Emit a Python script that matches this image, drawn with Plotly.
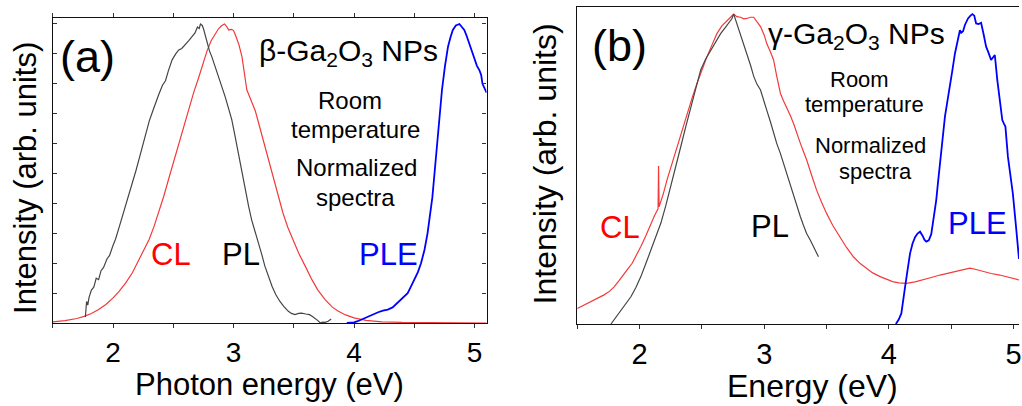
import plotly.graph_objects as go

# ---------------- Panel (a): beta-Ga2O3 NPs ----------------
a_cl_e = [1.50, 1.60, 1.70, 1.76, 1.82, 1.88, 1.94, 2.00, 2.05, 2.105, 2.16, 2.215, 2.26, 2.30, 2.34,
          2.38, 2.42, 2.46, 2.50, 2.545, 2.59, 2.63, 2.67, 2.71, 2.745, 2.78, 2.815, 2.85, 2.875, 2.90,
          2.925, 2.945, 2.96, 2.985, 3.00, 3.02, 3.045, 3.07, 3.09, 3.11, 3.145, 3.18, 3.205, 3.23,
          3.26, 3.29, 3.33, 3.37, 3.41, 3.45, 3.50, 3.54, 3.60, 3.65, 3.70, 3.76, 3.82, 3.87, 3.93,
          4.00, 4.10, 4.23, 4.40, 4.64, 4.90, 5.10]
a_cl_i = [0.004, 0.008, 0.015, 0.022, 0.032, 0.045, 0.062, 0.084, 0.106, 0.134, 0.168, 0.21, 0.245,
          0.28, 0.323, 0.37, 0.423, 0.48, 0.537, 0.60, 0.665, 0.72, 0.772, 0.82, 0.866, 0.91, 0.945,
          0.97, 0.984, 0.994, 1.0, 0.99, 0.98, 0.982, 0.978, 0.958, 0.93, 0.89, 0.84, 0.78, 0.745,
          0.71, 0.673, 0.635, 0.592, 0.545, 0.482, 0.42, 0.368, 0.32, 0.27, 0.234, 0.186, 0.145,
          0.11, 0.078, 0.053, 0.039, 0.027, 0.017, 0.009, 0.004, 0.002, 0.001, 0.0, 0.0]

a_pl_e = [1.77, 1.775, 1.78, 1.79, 1.80, 1.82, 1.84, 1.86, 1.88, 1.90, 1.92, 1.95, 1.97, 2.00, 2.02,
          2.05, 2.08, 2.105, 2.13, 2.16, 2.19, 2.22, 2.25, 2.27, 2.30, 2.33, 2.35, 2.38, 2.41, 2.435,
          2.46, 2.49, 2.52, 2.545, 2.57, 2.60, 2.63, 2.655, 2.68, 2.70, 2.715, 2.725, 2.74, 2.75,
          2.765, 2.78, 2.80, 2.82, 2.85, 2.875, 2.90, 2.93, 2.96, 2.985, 3.01, 3.04, 3.07, 3.10,
          3.125, 3.15, 3.18, 3.21, 3.235, 3.26, 3.29, 3.32, 3.35, 3.385, 3.42, 3.455, 3.48, 3.51,
          3.54, 3.565, 3.60, 3.63, 3.655, 3.675, 3.70, 3.72, 3.74, 3.76, 3.785, 3.81]
a_pl_i = [0.02, 0.05, 0.072, 0.06, 0.085, 0.11, 0.12, 0.15, 0.145, 0.175, 0.185, 0.215, 0.225, 0.26,
          0.28, 0.32, 0.36, 0.39, 0.43, 0.465, 0.51, 0.555, 0.60, 0.635, 0.675, 0.71, 0.735, 0.765,
          0.795, 0.81, 0.845, 0.88, 0.9, 0.913, 0.918, 0.93, 0.945, 0.958, 0.97, 0.99, 0.985, 1.0,
          0.995, 0.985, 0.96, 0.935, 0.91, 0.89, 0.855, 0.824, 0.795, 0.757, 0.715, 0.68, 0.63,
          0.568, 0.50, 0.434, 0.39, 0.345, 0.305, 0.267, 0.228, 0.19, 0.155, 0.122, 0.095, 0.072,
          0.054, 0.039, 0.032, 0.028, 0.032, 0.033, 0.03, 0.028, 0.022, 0.017, 0.008, 0.0, 0.003,
          0.002, 0.006, 0.013]

a_ple_e = [3.94, 4.00, 4.03, 4.07, 4.115, 4.16, 4.20, 4.24, 4.28, 4.32, 4.36, 4.40, 4.445, 4.47,
           4.50, 4.53, 4.556, 4.585, 4.61, 4.63, 4.65, 4.67, 4.69, 4.71, 4.73, 4.755, 4.78, 4.80,
           4.82, 4.845, 4.875, 4.895, 4.915, 4.935, 4.955, 4.975, 5.00, 5.02, 5.04, 5.055, 5.066,
           5.08, 5.10]
a_ple_i = [0.0, 0.002, 0.006, 0.013, 0.022, 0.03, 0.036, 0.041, 0.045, 0.052, 0.067, 0.08, 0.10,
           0.12, 0.145, 0.17, 0.20, 0.245, 0.30, 0.355, 0.42, 0.51, 0.60, 0.69, 0.78, 0.86, 0.924,
           0.955, 0.98, 0.995, 1.0, 0.99, 0.98, 0.96, 0.935, 0.91, 0.88, 0.86, 0.846, 0.83, 0.80,
           0.785, 0.77]

# ---------------- Panel (b): gamma-Ga2O3 NPs ----------------
b_cl_e = [1.50, 1.55, 1.61, 1.66, 1.715, 1.76, 1.795, 1.835, 1.875, 1.91, 1.94, 1.975, 2.01, 2.05,
          2.09, 2.12, 2.148, 2.152, 2.156, 2.19, 2.22, 2.26, 2.30, 2.34, 2.38, 2.42, 2.46, 2.50,
          2.54, 2.58, 2.62, 2.66, 2.70, 2.73, 2.755, 2.78, 2.81, 2.835, 2.86, 2.89, 2.915, 2.945,
          2.97, 3.00, 3.02, 3.05, 3.075, 3.10, 3.13, 3.155, 3.18, 3.21, 3.235, 3.26, 3.29, 3.315,
          3.34, 3.38, 3.42, 3.46, 3.50, 3.55, 3.61, 3.66, 3.715, 3.77, 3.82, 3.87, 3.93, 3.98, 4.03,
          4.08, 4.14, 4.21, 4.275, 4.34, 4.41, 4.48, 4.54, 4.60, 4.65, 4.70, 4.755, 4.82, 4.89,
          4.96, 5.044]
b_cl_i = [0.05, 0.06, 0.072, 0.082, 0.094, 0.106, 0.12, 0.14, 0.163, 0.18, 0.196, 0.222, 0.25,
          0.285, 0.325, 0.35, 0.372, 0.51, 0.378, 0.42, 0.465, 0.518, 0.572, 0.626, 0.68, 0.728,
          0.776, 0.82, 0.862, 0.90, 0.937, 0.962, 0.98, 0.99, 1.0, 0.992, 0.99, 0.985, 0.986,
          0.99, 0.99, 0.975, 0.96, 0.932, 0.905, 0.878, 0.852, 0.80, 0.744, 0.72, 0.70, 0.672,
          0.647, 0.615, 0.583, 0.556, 0.53, 0.48, 0.432, 0.393, 0.357, 0.318, 0.28, 0.247, 0.217,
          0.195, 0.18, 0.165, 0.153, 0.145, 0.137, 0.133, 0.131, 0.136, 0.142, 0.15, 0.158, 0.164,
          0.169, 0.175, 0.18, 0.176, 0.169, 0.163, 0.158, 0.15, 0.142]

b_pl_e = [1.77, 1.81, 1.85, 1.89, 1.93, 1.97, 2.01, 2.05, 2.09, 2.13, 2.17, 2.21, 2.25, 2.29, 2.33,
          2.37, 2.41, 2.45, 2.49, 2.53, 2.57, 2.61, 2.65, 2.69, 2.715, 2.74, 2.755, 2.78, 2.81,
          2.835, 2.86, 2.89, 2.915, 2.94, 2.97, 3.00, 3.02, 3.05, 3.075, 3.10, 3.13, 3.155, 3.18,
          3.21, 3.235, 3.26, 3.29, 3.315, 3.34, 3.37, 3.395, 3.415, 3.435]
b_pl_i = [0.0, 0.022, 0.045, 0.066, 0.088, 0.118, 0.153, 0.195, 0.239, 0.282, 0.325, 0.382, 0.443,
          0.507, 0.572, 0.636, 0.70, 0.762, 0.82, 0.855, 0.884, 0.912, 0.937, 0.958, 0.97, 0.985,
          1.0, 0.97, 0.937, 0.905, 0.873, 0.835, 0.80, 0.775, 0.755, 0.72, 0.69, 0.652, 0.615,
          0.583, 0.55, 0.518, 0.486, 0.448, 0.41, 0.378, 0.346, 0.318, 0.292, 0.27, 0.25, 0.232,
          0.217]

b_ple_e = [4.056, 4.08, 4.10, 4.115, 4.13, 4.15, 4.17, 4.19, 4.21, 4.23, 4.25, 4.27, 4.285, 4.30,
           4.32, 4.34, 4.36, 4.38, 4.395, 4.41, 4.43, 4.45, 4.47, 4.49, 4.51, 4.53, 4.55, 4.57,
           4.58, 4.595, 4.61, 4.635, 4.655, 4.67, 4.685, 4.70, 4.72, 4.74, 4.76, 4.78, 4.80, 4.82,
           4.835, 4.85, 4.87, 4.89, 4.91, 4.925, 4.935, 4.955, 4.975, 4.995, 5.02, 5.044]
b_ple_i = [0.0, 0.015, 0.034, 0.07, 0.12, 0.175, 0.228, 0.26, 0.28, 0.292, 0.298, 0.285, 0.272,
           0.266, 0.27, 0.29, 0.34, 0.40, 0.46, 0.52, 0.60, 0.67, 0.72, 0.766, 0.82, 0.873, 0.91,
           0.948, 0.94, 0.945, 0.965, 0.986, 0.995, 1.0, 0.995, 0.97, 0.968, 0.972, 0.935, 0.895,
           0.875, 0.852, 0.86, 0.868, 0.787, 0.72, 0.658, 0.645, 0.637, 0.54, 0.48, 0.42, 0.314,
           0.21]

x_tickvals = [2, 3, 4, 5]
x_ticktext = ["2", "3", "4", "5"]

RED_LINE = "#f23a3a"
PL_LINE = "#454545"
BLUE = "#0000ff"

fig = go.Figure()
fig.add_trace(go.Scatter(x=a_cl_e, y=a_cl_i, mode="lines", line=dict(color=RED_LINE, width=1.2),
                         xaxis="x", yaxis="y", showlegend=False))
fig.add_trace(go.Scatter(x=a_pl_e, y=a_pl_i, mode="lines", line=dict(color=PL_LINE, width=1.2),
                         xaxis="x", yaxis="y", showlegend=False))
fig.add_trace(go.Scatter(x=a_ple_e, y=a_ple_i, mode="lines", line=dict(color=BLUE, width=1.8),
                         xaxis="x", yaxis="y", showlegend=False))
fig.add_trace(go.Scatter(x=b_cl_e, y=b_cl_i, mode="lines", line=dict(color=RED_LINE, width=1.2),
                         xaxis="x2", yaxis="y2", showlegend=False))
fig.add_trace(go.Scatter(x=b_pl_e, y=b_pl_i, mode="lines", line=dict(color=PL_LINE, width=1.2),
                         xaxis="x2", yaxis="y2", showlegend=False))
fig.add_trace(go.Scatter(x=b_ple_e, y=b_ple_i, mode="lines", line=dict(color=BLUE, width=1.8),
                         xaxis="x2", yaxis="y2", showlegend=False))

W, H = 1022, 406
FONT = "Liberation Sans, Arial, sans-serif"


def px_x(p):
    return p / W


def px_y(p):
    return 1 - p / H


common_x = dict(showgrid=False, zeroline=False, showline=True, linecolor="#111", linewidth=1.3,
                ticks="outside", ticklen=4, tickwidth=1.2, tickcolor="#333",
                tickvals=x_tickvals, ticktext=x_ticktext, ticklabeloverflow="allow",
                minor=dict(dtick=0.5, tick0=1.5, ticks="outside", ticklen=4, tickwidth=1.2, tickcolor="#333"))

fig.update_layout(
    width=W, height=H, margin=dict(l=0, r=0, t=0, b=0),
    paper_bgcolor="white", plot_bgcolor="white",
    xaxis=dict(domain=[px_x(53), px_x(488)], range=[1.5, 5.1], anchor="y", mirror="ticks",
               tickfont=dict(family=FONT, size=28, color="black"), **common_x),
    yaxis=dict(domain=[px_y(323), px_y(18)], range=[0, 1.02], anchor="x", showgrid=False,
               zeroline=False, showline=True, linecolor="#111", linewidth=1.3, mirror="ticks",
               ticks="inside", ticklen=4, tickwidth=1.1, tickcolor="#333", dtick=0.1, tick0=0,
               showticklabels=False),
    xaxis2=dict(domain=[px_x(579), 1.0], range=[1.5, 1.5 + (W - 579) / 125.0], anchor="y2",
                mirror=True, tickfont=dict(family=FONT, size=29, color="black"), **common_x),
    yaxis2=dict(domain=[px_y(324), px_y(7)], range=[0, 1.023], anchor="x2", showgrid=False,
                zeroline=False, showline=True, linecolor="#111", linewidth=1.3, ticks="",
                showticklabels=False),
)

ann = []


def add_text(x, y, text, size, color="black", angle=0):
    ann.append(dict(x=px_x(x), y=px_y(y), xref="paper", yref="paper", text=text, showarrow=False,
                    xanchor="center", yanchor="middle", textangle=angle,
                    font=dict(family=FONT, size=size, color=color)))


# panel (a)
add_text(88, 56, "(a)", 45)
add_text(350, 52, "β-Ga<sub>2</sub>O<sub>3</sub> NPs", 30)
add_text(351, 101, "Room", 24)
add_text(357, 130, "temperature", 24)
add_text(358, 168, "Normalized", 24)
add_text(357, 197, "spectra", 24)
add_text(172, 255, "CL", 31, "#ff0000")
add_text(242, 255, "PL", 31)
add_text(390, 255, "PLE", 31, BLUE)
add_text(270, 384, "Photon energy (eV)", 31)
add_text(25, 178, "Intensity (arb. units)", 31, angle=-90)

# panel (b)
add_text(621, 46, "(b)", 45)
add_text(859, 35, "γ-Ga<sub>2</sub>O<sub>3</sub> NPs", 30)
add_text(862, 79, "Room", 22)
add_text(867, 105, "temperature", 22)
add_text(873, 145, "Normalized", 22)
add_text(878, 171, "spectra", 22)
add_text(622, 227, "CL", 31, "#ff0000")
add_text(772, 226, "PL", 31)
add_text(980, 223, "PLE", 31, BLUE)
add_text(815, 386, "Energy (eV)", 32)
add_text(547, 164, "Intensity (arb. units)", 32, angle=-90)

fig.update_layout(annotations=ann)

fig.write_html("out.html", config={"displayModeBar": False},
               post_script="document.body.style.margin='0';document.body.style.overflow='hidden';")
